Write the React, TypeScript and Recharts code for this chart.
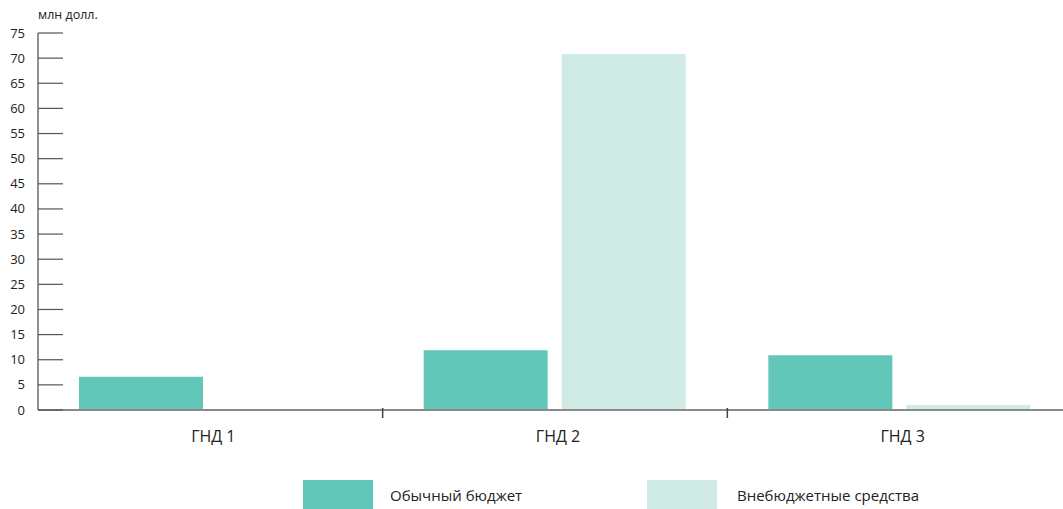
import React from 'react';
import { BarChart, Bar, XAxis, YAxis, Legend } from 'recharts';

const categories = ['ГНД 1', 'ГНД 2', 'ГНД 3'];
const regularBudget = [6.6, 11.9, 10.9];
const extraBudget = [0, 70.8, 1.0];
const yTicks = [0, 5, 10, 15, 20, 25, 30, 35, 40, 45, 50, 55, 60, 65, 70, 75];
const seriesNames = ['Обычный бюджет', 'Внебюджетные средства'];
const unitLabel = 'млн долл.';

const data = categories.map((c, i) => ({ name: c, regular: regularBudget[i], extra: extraBudget[i] }));

const COLORS = ['#62C6B8', '#D0EBE5'];
const FONT = '"Open Sans", "Noto Sans", sans-serif';
const CHART_W = 1072;
const LEFT = 38;
const BAND = (CHART_W - LEFT) / categories.length;

const YTick = (props: any) => {
  const { y, payload } = props;
  return (
    <g>
      <line x1={LEFT} x2={LEFT + 25} y1={y} y2={y} stroke="#555" strokeWidth={1.2} />
      <text x={25} y={y} dy={4.5} textAnchor="end" fontSize={13} fill="#222" fontFamily={FONT}>
        {payload.value}
      </text>
    </g>
  );
};

const XTick = (props: any) => {
  const { x, y, payload, index } = props;
  return (
    <g>
      {index < categories.length - 1 && (
        <line x1={x + BAND / 2} x2={x + BAND / 2} y1={y - 10} y2={y} stroke="#444" strokeWidth={1.5} />
      )}
      <text x={x + 3} y={y + 24} textAnchor="middle" fontSize={16} fill="#222" fontFamily={FONT}>
        {payload.value}
      </text>
    </g>
  );
};

const legendSwatchX = [303, 647];
const legendTextX = [390, 737];

const LegendContent = () => (
  <div style={{ position: 'relative', width: 1063, height: 29, fontFamily: FONT }}>
    {seriesNames.map((n, i) => (
      <React.Fragment key={n}>
        <div style={{ position: 'absolute', left: legendSwatchX[i], top: 0, width: 70, height: 29, background: COLORS[i] }} />
        <span style={{ position: 'absolute', left: legendTextX[i], top: 4, fontSize: 15, lineHeight: '22px', color: '#222', whiteSpace: 'nowrap' }}>{n}</span>
      </React.Fragment>
    ))}
  </div>
);

export default function App() {
  return (
    <div style={{ position: 'absolute', left: 0, top: 0, width: 1063, height: 509, overflow: 'hidden', background: '#fff' }}>
      <BarChart
        width={CHART_W}
        height={509}
        data={data}
        margin={{ top: 33, right: 0, bottom: 0, left: 0 }}
        barGap={14}
        barSize={124}
      >
        <XAxis
          dataKey="name"
          height={70}
          axisLine={{ stroke: '#8a8a8a', strokeWidth: 2 }}
          tickLine={false}
          tick={<XTick />}
          interval={0}
        />
        <YAxis
          width={LEFT}
          domain={[0, 75]}
          ticks={yTicks}
          interval={0}
          axisLine={{ stroke: '#222', strokeWidth: 1 }}
          tickLine={false}
          tick={<YTick />}
          label={(p: any) => (
            <text x={LEFT} y={19} fontSize={12.5} fill="#222" fontFamily={FONT}>
              {unitLabel}
            </text>
          )}
        />
        <Legend verticalAlign="bottom" align="left" height={29} content={<LegendContent />} />
        <Bar dataKey="regular" name={seriesNames[0]} fill={COLORS[0]} isAnimationActive={false} />
        <Bar dataKey="extra" name={seriesNames[1]} fill={COLORS[1]} isAnimationActive={false} />
      </BarChart>
    </div>
  );
}
